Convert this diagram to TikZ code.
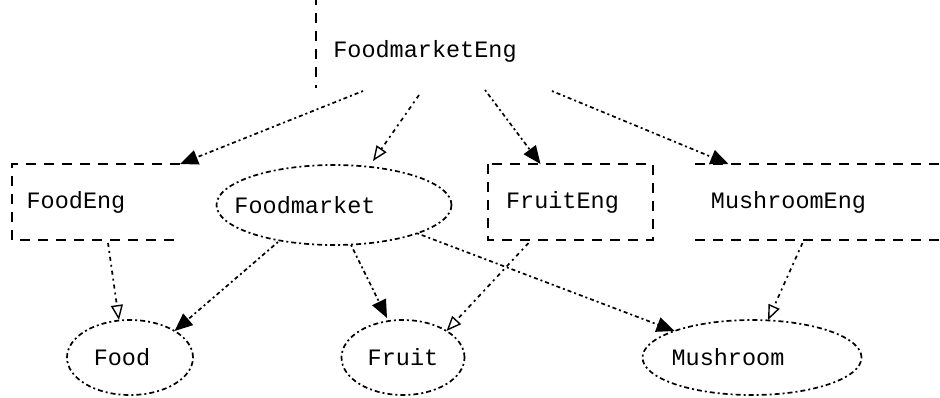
\documentclass[tikz,border=0pt]{standalone}
\usepackage{fontspec}
\newfontfamily\pixfont{Liberation Mono}
\usetikzlibrary{shapes.geometric,arrows.meta,positioning}

\tikzset{
  engbox/.style={rectangle,inner sep=0pt,outer sep=0pt},
  classell/.style={ellipse,draw,inner sep=0pt,outer sep=0pt,
    line width=1.7pt,dash pattern=on 5pt off 3pt on 2pt off 3pt},
  boxline/.style={line width=1.9pt,dash pattern=on 10pt off 8pt},
  uses/.style={line width=1.7pt,dash pattern=on 2pt off 3pt on 4pt off 3pt,
    -{Triangle[length=18pt,width=15pt]}},
  impl/.style={line width=1.7pt,dash pattern=on 4pt off 4pt on 2pt off 4pt,
    -{Triangle[open,length=15pt,width=12pt,line width=1.4pt]}}
}

\begin{document}
\begin{tikzpicture}[x=1pt,y=-1pt,font=\pixfont\fontsize{23.5}{25}\selectfont]
  \useasboundingbox (0,0) rectangle (940,397);
  % engine boxes
  \node[engbox,minimum width=218pt,minimum height=93pt,
    label={[yshift=-10pt]center:FoodmarketEng}] (fmeng) at (425,41.5) {};
  \node[engbox,minimum width=168pt,minimum height=76pt,
    label={[xshift=-20pt]center:FoodEng}] (foodeng) at (96,202) {};
  \node[engbox,minimum width=165pt,minimum height=76pt,
    label={[xshift=-8pt]center:FruitEng}] (fruiteng) at (570.5,202) {};
  \node[engbox,minimum width=255pt,minimum height=76pt,
    label={[xshift=-34pt]center:MushroomEng}] (mreng) at (822.5,202) {};
  % class ellipses
  \node[classell,minimum width=235pt,minimum height=80pt,
    label={[xshift=-29pt]center:Foodmarket}] (fmarket) at (334,205) {};
  \node[classell,minimum width=126pt,minimum height=75pt,
    label={[xshift=-8pt]center:Food}] (food) at (130,357.5) {};
  \node[classell,minimum width=123pt,minimum height=75pt,
    label={center:Fruit}] (fruit) at (403,357.5) {};
  \node[classell,minimum width=219pt,minimum height=75pt,
    label={[xshift=-24pt]center:Mushroom}] (mroom) at (752,357.5) {};
  % box outlines (only the parts that show)
  \draw[boxline] (fmeng.north west) -- (fmeng.south west);
  \draw[boxline] (foodeng.north east) -- (foodeng.north west)
    -- (foodeng.south west) -- (foodeng.south east);
  \draw[boxline] (fruiteng.north west) rectangle (fruiteng.south east);
  \draw[boxline] (mreng.north west) -- (mreng.north east);
  \draw[boxline] (mreng.south west) -- (mreng.south east);
  % connectors
  \draw[uses] ([xshift=-62pt,yshift=-3pt]fmeng.south) -- (foodeng.north east);
  \draw[impl] ([xshift=-6pt,yshift=-7pt]fmeng.south) -- ([xshift=39pt,yshift=4pt]fmarket.north);
  \draw[uses] ([xshift=60pt,yshift=-2pt]fmeng.south) -- ([xshift=-30pt]fruiteng.north);
  \draw[uses] ([xshift=127pt,yshift=-3pt]fmeng.south) -- ([xshift=-94pt]mreng.north);
  \draw[impl] ([xshift=12pt,yshift=-3pt]foodeng.south) -- ([xshift=-11pt]food.north);
  \draw[uses] ([xshift=-56pt,yshift=3pt]fmarket.south) -- (food.north east);
  \draw[uses] ([xshift=17pt]fmarket.south) -- ([xshift=-16pt,yshift=2pt]fruit.north);
  \draw[uses] (fmarket.south east) -- (mroom.north west);
  \draw[impl] ([xshift=-42pt,yshift=-3pt]fruiteng.south) -- (fruit.north east);
  \draw[impl] ([xshift=-20pt,yshift=-3pt]mreng.south) -- ([xshift=16pt]mroom.north);
\end{tikzpicture}
\end{document}
